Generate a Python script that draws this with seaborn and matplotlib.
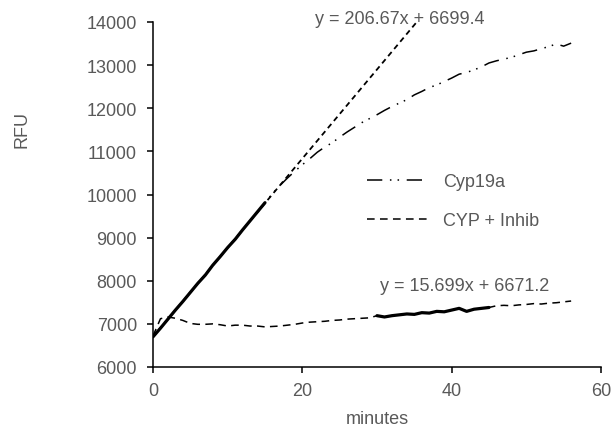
import matplotlib
matplotlib.use('Agg')
import matplotlib.pyplot as plt
import seaborn as sns
import pandas as pd

# Time points (minutes)
minutes = list(range(0, 57))

# Cyp19a RFU readings
cyp19a = [6700, 6900, 7110, 7320, 7520, 7730, 7940, 8130, 8360, 8560,
          8770, 8960, 9180, 9390, 9600, 9810, 10020, 10210, 10380, 10540,
          10690, 10830, 10980, 11100, 11200, 11330, 11450, 11560, 11670, 11760,
          11850, 11950, 12040, 12120, 12200, 12310, 12390, 12480, 12540, 12620,
          12700, 12790, 12830, 12890, 12960, 13050, 13100, 13140, 13180, 13240,
          13300, 13330, 13380, 13430, 13490, 13440, 13510]

# CYP + Inhib RFU readings
cyp_inhib = [6720, 7120, 7160, 7130, 7080, 7010, 6990, 6990, 7000, 6980,
             6950, 6970, 6970, 6950, 6950, 6930, 6940, 6950, 6970, 6990,
             7020, 7040, 7050, 7060, 7080, 7090, 7110, 7120, 7130, 7140,
             7190, 7160, 7190, 7210, 7230, 7220, 7260, 7250, 7290, 7280,
             7320, 7360, 7290, 7340, 7360, 7380, 7420, 7430, 7420, 7440,
             7450, 7470, 7460, 7480, 7490, 7510, 7530]

# Linear fit windows and trendline coefficients
fit1_range = (0, 15)
fit1_slope, fit1_icpt = 206.67, 6699.4
fit2_range = (30, 45)
fit2_slope, fit2_icpt = 15.699, 6671.2

series_labels = ['Cyp19a', 'CYP + Inhib']

sns.set_theme(style='white')
plt.rcParams['font.family'] = ['Liberation Sans', 'DejaVu Sans']

df = pd.DataFrame({'minutes': minutes, 'Cyp19a': cyp19a, 'CYP + Inhib': cyp_inhib})

W, H = 614, 427
fig = plt.figure(figsize=(W / 100, H / 100), dpi=100)
ax = fig.add_axes([153 / W, 1 - 368 / H, 448 / W, 345 / H])

grey = '#595959'
dashdotdot = (0, (10, 5, 1, 4, 1, 5))
dashed = (0, (5, 3.5))

sns.lineplot(data=df, x='minutes', y='Cyp19a', ax=ax, color='black',
             linewidth=1.1, linestyle=dashdotdot, label=series_labels[0])
sns.lineplot(data=df, x='minutes', y='CYP + Inhib', ax=ax, color='black',
             linewidth=1.1, linestyle=dashed, label=series_labels[1])

# highlighted fitting windows
seg1 = df[(df['minutes'] >= fit1_range[0]) & (df['minutes'] <= fit1_range[1])]
seg2 = df[(df['minutes'] >= fit2_range[0]) & (df['minutes'] <= fit2_range[1])]
sns.lineplot(data=seg1, x='minutes', y='Cyp19a', ax=ax, color='black',
             linewidth=2.3, legend=False)
sns.lineplot(data=seg2, x='minutes', y='CYP + Inhib', ax=ax, color='black',
             linewidth=2.3, legend=False)

# trendline
ax.axline((0, fit1_icpt), slope=fit1_slope, color='black', linewidth=1.3,
          linestyle=(0, (3, 2.2)))

ax.text(33.1, 14090, f'y = {fit1_slope}x + {fit1_icpt}', color=grey, fontsize=13,
        ha='center', va='center', clip_on=False)
ax.text(41.8, 7880, f'y = {fit2_slope}x + {fit2_icpt}', color=grey, fontsize=13,
        ha='center', va='center')

ax.set_xlim(0, 60)
ax.set_ylim(6000, 14000)
ax.set_xticks([0, 20, 40, 60])
ax.set_yticks(range(6000, 14001, 1000))
ax.set_xlabel('')
ax.set_ylabel('')
sns.despine(ax=ax)
for side in ['left', 'bottom']:
    ax.spines[side].set_color('black')
    ax.spines[side].set_linewidth(1.1)
ax.tick_params(axis='y', direction='out', length=4.5, width=1.1, color='black',
               labelsize=13, labelcolor=grey, pad=7, left=True)
ax.tick_params(axis='x', direction='out', length=4, width=1.1, color='black',
               labelsize=13, labelcolor=grey, pad=7, bottom=True)

fig.text(22 / W, 1 - 130 / H, 'RFU', rotation=90, color=grey, fontsize=13,
         ha='center', va='center')
fig.text(377 / W, 1 - 420 / H, 'minutes', color=grey, fontsize=13,
         ha='center', va='center')

leg = ax.legend(loc='center left', bbox_to_anchor=(367 / W, 1 - 202 / H),
                bbox_transform=fig.transFigure, frameon=False, fontsize=13,
                handlelength=3.4, handletextpad=0.8, labelspacing=1.2,
                borderpad=0, borderaxespad=0)
for t in leg.get_texts():
    t.set_color(grey)

fig.savefig('out.png', dpi=100)
